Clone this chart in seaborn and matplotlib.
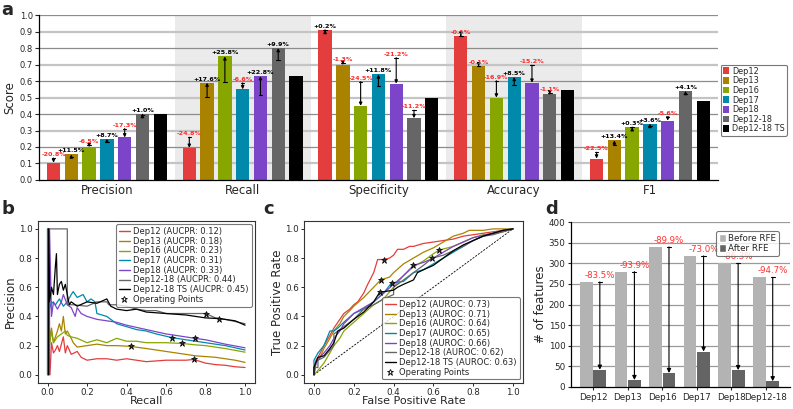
import numpy as np
import pandas as pd
import matplotlib
matplotlib.use('Agg')
import matplotlib.pyplot as plt
import seaborn as sns
from matplotlib.patches import Patch
from matplotlib.lines import Line2D

# ---------------- data ----------------
models = ['Dep12', 'Dep13', 'Dep16', 'Dep17', 'Dep18', 'Dep12-18', 'Dep12-18 TS']
colors = ['#e33d3d', '#a98300', '#88a600', '#0089ab', '#7c44c8', '#666666', '#000000']
metrics = ['Precision', 'Recall', 'Specificity', 'Accuracy', 'F1']

precision = [0.105, 0.155, 0.200, 0.250, 0.258, 0.400, 0.400]
recall = [0.195, 0.590, 0.750, 0.550, 0.630, 0.800, 0.632]
specificity = [0.910, 0.700, 0.450, 0.640, 0.585, 0.375, 0.500]
accuracy = [0.875, 0.690, 0.500, 0.625, 0.590, 0.520, 0.545]
f1 = [0.130, 0.240, 0.320, 0.340, 0.360, 0.540, 0.482]

precision_pct = [-20.8, 11.5, -6.5, 8.7, -17.3, 1.0]
recall_pct = [-24.8, 17.6, 25.8, -6.6, 22.8, 9.9]
specificity_pct = [0.2, -1.3, -24.5, 11.8, -21.2, -11.2]
accuracy_pct = [-0.1, -0.1, -16.9, 8.5, -15.2, -1.1]
f1_pct = [-22.5, 13.4, 0.3, 3.6, -5.6, 4.1]

# PR curves (recall, precision)
pr_recall = {
    'Dep12': [0.012, 0.012, 0.02, 0.03, 0.04, 0.05, 0.06, 0.08, 0.09, 0.10, 0.12, 0.15, 0.17, 0.20, 0.25, 0.30, 0.35, 0.40, 0.45, 0.50, 0.55, 0.60, 0.65, 0.70, 0.74, 0.80, 0.85, 0.90, 0.95, 1.0],
    'Dep13': [0.005, 0.005, 0.01, 0.02, 0.03, 0.05, 0.06, 0.07, 0.08, 0.09, 0.10, 0.12, 0.13, 0.15, 0.20, 0.25, 0.30, 0.35, 0.42, 0.50, 0.55, 0.60, 0.65, 0.70, 0.75, 0.80, 0.85, 0.90, 0.95, 1.0],
    'Dep16': [0.004, 0.004, 0.01, 0.02, 0.03, 0.05, 0.07, 0.09, 0.10, 0.12, 0.15, 0.20, 0.25, 0.30, 0.35, 0.40, 0.45, 0.50, 0.60, 0.68, 0.75, 0.80, 0.90, 1.0],
    'Dep17': [0.0, 0.0, 0.005, 0.01, 0.02, 0.04, 0.06, 0.08, 0.10, 0.12, 0.13, 0.15, 0.18, 0.20, 0.22, 0.24, 0.25, 0.30, 0.35, 0.40, 0.45, 0.50, 0.55, 0.63, 0.70, 0.80, 0.90, 1.0],
    'Dep18': [0.01, 0.01, 0.02, 0.03, 0.05, 0.07, 0.08, 0.10, 0.12, 0.14, 0.15, 0.17, 0.20, 0.25, 0.30, 0.35, 0.40, 0.50, 0.60, 0.65, 0.745, 0.80, 0.90, 1.0],
    'Dep12-18': [0.0, 0.0, 0.10, 0.10, 0.13, 0.20, 0.25, 0.30, 0.31, 0.35, 0.40, 0.45, 0.50, 0.55, 0.60, 0.70, 0.80, 0.85, 0.90, 1.0],
    'Dep12-18 TS': [0.005, 0.005, 0.01, 0.02, 0.03, 0.04, 0.045, 0.05, 0.06, 0.07, 0.08, 0.09, 0.10, 0.11, 0.12, 0.15, 0.20, 0.25, 0.30, 0.32, 0.35, 0.40, 0.45, 0.50, 0.60, 0.70, 0.80, 0.87, 0.95, 1.0],
}
pr_precision = {
    'Dep12': [0.0, 0.0, 0.22, 0.15, 0.17, 0.20, 0.16, 0.26, 0.15, 0.20, 0.14, 0.16, 0.12, 0.10, 0.11, 0.11, 0.10, 0.11, 0.10, 0.09, 0.095, 0.10, 0.10, 0.10, 0.105, 0.08, 0.07, 0.065, 0.055, 0.05],
    'Dep13': [0.0, 1.0, 0.25, 0.32, 0.22, 0.30, 0.35, 0.30, 0.40, 0.28, 0.30, 0.25, 0.22, 0.19, 0.20, 0.21, 0.20, 0.20, 0.195, 0.18, 0.17, 0.16, 0.15, 0.14, 0.13, 0.125, 0.12, 0.11, 0.10, 0.085],
    'Dep16': [0.0, 1.0, 0.20, 0.30, 0.22, 0.26, 0.28, 0.30, 0.27, 0.26, 0.25, 0.22, 0.24, 0.22, 0.25, 0.23, 0.23, 0.22, 0.22, 0.215, 0.205, 0.20, 0.18, 0.155],
    'Dep17': [0.0, 1.0, 1.0, 0.45, 0.50, 0.48, 0.52, 0.47, 0.50, 0.55, 0.57, 0.53, 0.55, 0.50, 0.52, 0.50, 0.42, 0.40, 0.35, 0.33, 0.31, 0.30, 0.28, 0.255, 0.24, 0.22, 0.20, 0.17],
    'Dep18': [0.0, 1.0, 0.40, 0.50, 0.45, 0.50, 0.55, 0.48, 0.46, 0.40, 0.46, 0.42, 0.40, 0.38, 0.37, 0.36, 0.34, 0.31, 0.28, 0.27, 0.25, 0.24, 0.21, 0.185],
    'Dep12-18': [0.0, 1.0, 1.0, 0.48, 0.48, 0.47, 0.50, 0.50, 0.48, 0.48, 0.47, 0.45, 0.44, 0.44, 0.42, 0.42, 0.42, 0.39, 0.38, 0.35],
    'Dep12-18 TS': [0.0, 1.0, 0.50, 0.60, 0.55, 0.75, 0.83, 0.55, 0.62, 0.64, 0.58, 0.62, 0.55, 0.48, 0.50, 0.47, 0.50, 0.49, 0.52, 0.47, 0.45, 0.44, 0.45, 0.43, 0.42, 0.41, 0.39, 0.385, 0.37, 0.34],
}
aucpr = [0.12, 0.18, 0.23, 0.31, 0.33, 0.44, 0.45]
pr_op_recall = [0.74, 0.42, 0.68, 0.63, 0.745, 0.80, 0.87]
pr_op_precision = [0.105, 0.195, 0.215, 0.255, 0.25, 0.42, 0.385]

# ROC curves (fpr, tpr)
roc_fpr = {
    'Dep12': [0, 0, 0.01, 0.02, 0.05, 0.08, 0.10, 0.12, 0.15, 0.18, 0.20, 0.22, 0.25, 0.27, 0.30, 0.32, 0.35, 0.38, 0.40, 0.42, 0.45, 0.48, 0.50, 0.55, 0.60, 0.65, 0.70, 0.75, 0.80, 0.85, 0.90, 0.95, 1.0],
    'Dep13': [0, 0.01, 0.03, 0.05, 0.08, 0.10, 0.13, 0.15, 0.18, 0.20, 0.25, 0.30, 0.335, 0.38, 0.40, 0.45, 0.50, 0.55, 0.60, 0.65, 0.70, 0.75, 0.78, 0.85, 0.90, 1.0],
    'Dep16': [0, 0.02, 0.05, 0.08, 0.10, 0.13, 0.15, 0.20, 0.25, 0.30, 0.35, 0.40, 0.45, 0.50, 0.55, 0.60, 0.63, 0.70, 0.75, 0.80, 0.85, 0.90, 0.95, 1.0],
    'Dep17': [0, 0, 0.02, 0.05, 0.08, 0.10, 0.12, 0.15, 0.20, 0.25, 0.30, 0.35, 0.39, 0.45, 0.50, 0.55, 0.60, 0.65, 0.70, 0.75, 0.80, 0.85, 0.90, 0.95, 1.0],
    'Dep18': [0, 0.01, 0.03, 0.05, 0.08, 0.10, 0.13, 0.15, 0.20, 0.25, 0.30, 0.35, 0.40, 0.45, 0.50, 0.55, 0.60, 0.65, 0.70, 0.75, 0.80, 0.90, 1.0],
    'Dep12-18': [0, 0, 0.02, 0.02, 0.05, 0.10, 0.10, 0.15, 0.20, 0.25, 0.30, 0.35, 0.40, 0.40, 0.45, 0.50, 0.55, 0.595, 0.65, 0.70, 0.75, 0.80, 0.85, 0.90, 0.95, 1.0],
    'Dep12-18 TS': [0, 0, 0.02, 0.05, 0.08, 0.10, 0.12, 0.15, 0.20, 0.25, 0.30, 0.33, 0.40, 0.42, 0.45, 0.50, 0.52, 0.55, 0.60, 0.65, 0.70, 0.75, 0.80, 0.85, 0.90, 0.95, 1.0],
}
roc_tpr = {
    'Dep12': [0, 0.05, 0.10, 0.12, 0.20, 0.27, 0.32, 0.36, 0.42, 0.45, 0.48, 0.50, 0.56, 0.62, 0.70, 0.79, 0.79, 0.80, 0.82, 0.86, 0.86, 0.88, 0.88, 0.90, 0.91, 0.92, 0.93, 0.95, 0.96, 0.97, 0.98, 0.99, 1.0],
    'Dep13': [0, 0.08, 0.12, 0.18, 0.25, 0.30, 0.35, 0.40, 0.44, 0.47, 0.53, 0.60, 0.65, 0.67, 0.70, 0.76, 0.80, 0.84, 0.87, 0.91, 0.95, 0.97, 0.99, 0.99, 1.0, 1.0],
    'Dep16': [0, 0.03, 0.08, 0.15, 0.20, 0.25, 0.30, 0.36, 0.42, 0.48, 0.52, 0.60, 0.68, 0.74, 0.78, 0.83, 0.855, 0.88, 0.91, 0.94, 0.96, 0.97, 0.98, 1.0],
    'Dep17': [0, 0.10, 0.15, 0.20, 0.30, 0.30, 0.32, 0.36, 0.42, 0.45, 0.50, 0.56, 0.63, 0.64, 0.70, 0.72, 0.76, 0.80, 0.84, 0.88, 0.92, 0.95, 0.97, 0.99, 1.0],
    'Dep18': [0, 0.08, 0.12, 0.15, 0.20, 0.25, 0.30, 0.35, 0.42, 0.46, 0.50, 0.56, 0.62, 0.68, 0.75, 0.77, 0.80, 0.84, 0.88, 0.91, 0.94, 0.97, 1.0],
    'Dep12-18': [0, 0.05, 0.05, 0.10, 0.12, 0.20, 0.28, 0.33, 0.38, 0.45, 0.48, 0.52, 0.55, 0.60, 0.65, 0.70, 0.75, 0.80, 0.82, 0.85, 0.88, 0.92, 0.95, 0.96, 0.98, 1.0],
    'Dep12-18 TS': [0, 0.05, 0.12, 0.13, 0.18, 0.22, 0.30, 0.32, 0.38, 0.43, 0.50, 0.565, 0.58, 0.60, 0.62, 0.65, 0.70, 0.72, 0.75, 0.80, 0.85, 0.89, 0.92, 0.95, 0.97, 0.99, 1.0],
}
auroc = [0.73, 0.71, 0.64, 0.65, 0.66, 0.62, 0.63]
roc_op_fpr = [0.35, 0.335, 0.63, 0.39, 0.50, 0.595, 0.33]
roc_op_tpr = [0.79, 0.65, 0.855, 0.63, 0.75, 0.80, 0.565]

# RFE
rfe_models = ['Dep12', 'Dep13', 'Dep16', 'Dep17', 'Dep18', 'Dep12-18']
before_rfe = [255, 280, 340, 318, 300, 266]
after_rfe = [42, 17, 34, 86, 41, 14]
rfe_pct = [-83.5, -93.9, -89.9, -73.0, -86.3, -94.7]

# ---------------- figure ----------------
sns.set_style('white')
plt.rcParams['font.family'] = ['DejaVu Sans']
fig = plt.figure(figsize=(7.93, 4.09), dpi=100)

# ---- panel a ----
ax = fig.add_axes([0.0492, 0.560, 0.856, 0.403])
vals = [precision, recall, specificity, accuracy, f1]
pcts = [precision_pct, recall_pct, specificity_pct, accuracy_pct, f1_pct]
rows = []
for m, v in zip(metrics, vals):
    for mod, s in zip(models, v):
        rows.append({'metric': m, 'model': mod, 'score': s})
df = pd.DataFrame(rows)
ax.axvspan(0.5, 1.5, color='#ebebeb', zorder=0, lw=0)
ax.axvspan(2.5, 3.5, color='#ebebeb', zorder=0, lw=0)
for k in range(1, 11):
    y = k / 10
    if k % 2 == 1:
        ax.axhline(y, color='#c4c4c4', lw=1.6, zorder=0.5)
    else:
        ax.axhline(y, color='#8c8c8c', lw=0.9, zorder=0.5)
sns.barplot(data=df, x='metric', y='score', hue='model', order=metrics, hue_order=models,
            palette=colors, width=0.917, gap=0.25, saturation=1, errorbar=None,
            legend=False, ax=ax, zorder=2, linewidth=0)
for j, cont in enumerate(ax.containers):
    if j >= 6:
        continue
    for i, bar in enumerate(cont):
        x = bar.get_x() + bar.get_width() / 2
        val = bar.get_height()
        pct = pcts[i][j]
        ref = val / (1 + pct / 100)
        ax.annotate('', xy=(x, val), xytext=(x, ref),
                    arrowprops=dict(arrowstyle='-|>', color='black', lw=0.8,
                                    mutation_scale=4.5, shrinkA=0, shrinkB=0), zorder=3)
        ax.plot([x - 0.013, x + 0.013], [ref, ref], color='black', lw=0.8, zorder=3)
        ax.text(x, max(val, ref) + 0.006, f'{pct:+.1f}%', ha='center', va='bottom',
                fontsize=4.6, fontweight='bold', color='#ff2a2a' if pct < 0 else 'black', zorder=4)
ax.set_xlim(-0.5, 4.5)
ax.set_ylim(0, 1.0)
ax.set_yticks(np.arange(0, 1.01, 0.1))
ax.set_yticklabels([f'{t:.1f}' for t in np.arange(0, 1.01, 0.1)], fontsize=6)
ax.tick_params(axis='y', length=3, width=0.8, left=True, pad=1.5)
ax.tick_params(axis='x', length=0, labelsize=8.5, pad=3)
ax.set_xlabel('')
ax.set_ylabel('Score', fontsize=8.5, labelpad=2)
for s in ['top', 'right']:
    ax.spines[s].set_visible(False)
for s in ['left', 'bottom']:
    ax.spines[s].set_color('black')
    ax.spines[s].set_linewidth(0.9)
handles = [Patch(facecolor=c, edgecolor='none', label=m) for m, c in zip(models, colors)]
leg = ax.legend(handles=handles, loc='center left', bbox_to_anchor=(1.002, 0.485), fontsize=5.9,
                handlelength=0.8, handleheight=0.9, handletextpad=0.3, labelspacing=0.08,
                borderpad=0.25, borderaxespad=0.2, frameon=True, fancybox=True, edgecolor='#555555')
leg.get_frame().set_linewidth(0.8)

# ---- panel b ----
axb = fig.add_axes([0.0475, 0.064, 0.274, 0.396])
for k, (m, c) in enumerate(zip(models, colors)):
    sns.lineplot(x=pr_recall[m], y=pr_precision[m], color=c, lw=0.9, estimator=None,
                 sort=False, ax=axb, zorder=2 + (0.1 if m == 'Dep12-18 TS' else 0))
for k, c in enumerate(colors):
    axb.plot(pr_op_recall[k], pr_op_precision[k], marker='*', ms=4.5, color='#333333',
             mec='black', mew=0.5, ls='none', zorder=5)
axb.set_xlim(-0.05, 1.05)
axb.set_ylim(-0.055, 1.055)
axb.set_xticks(np.arange(0, 1.01, 0.2))
axb.set_yticks(np.arange(0, 1.01, 0.2))
axb.tick_params(labelsize=6.3, length=2.5, width=0.7, pad=1.2, bottom=True, left=True)
axb.set_xlabel('Recall', fontsize=8, labelpad=-0.5)
axb.set_ylabel('Precision', fontsize=8.5, labelpad=1)
for s in axb.spines.values():
    s.set_color('#333333'); s.set_linewidth(0.8)
hb = [Line2D([], [], color=c, lw=1, label=f'{m} (AUCPR: {a:.2f})') for m, c, a in zip(models, colors, aucpr)]
hb.append(Line2D([], [], marker='*', ls='none', mfc='white', mec='black', mew=0.6, ms=5, label='Operating Points'))
lb = axb.legend(handles=hb, loc='upper right', fontsize=6.0, handlelength=1.3, handletextpad=0.4,
                labelspacing=0.08, borderpad=0.35, frameon=True, fancybox=True, edgecolor='#555555',
                borderaxespad=0.4)
lb.get_frame().set_linewidth(0.8)

# ---- panel c ----
axc = fig.add_axes([0.3834, 0.064, 0.276, 0.396])
axc.plot([0, 1], [0, 1], ls='--', color='black', lw=0.6, dashes=(2.5, 1.5), zorder=1)
for k, (m, c) in enumerate(zip(models, colors)):
    sns.lineplot(x=roc_fpr[m], y=roc_tpr[m], color=c, lw=0.9, estimator=None,
                 sort=False, ax=axc, zorder=2)
for k, c in enumerate(colors):
    axc.plot(roc_op_fpr[k], roc_op_tpr[k], marker='*', ms=4.5, color='#333333',
             mec='black', mew=0.5, ls='none', zorder=5)
axc.set_xlim(-0.05, 1.05)
axc.set_ylim(-0.055, 1.055)
axc.set_xticks(np.arange(0, 1.01, 0.2))
axc.set_yticks(np.arange(0, 1.01, 0.2))
axc.tick_params(labelsize=6.3, length=2.5, width=0.7, pad=1.2, bottom=True, left=True)
axc.set_xlabel('False Positive Rate', fontsize=8, labelpad=-0.5)
axc.set_ylabel('True Positive Rate', fontsize=8.5, labelpad=1)
for s in axc.spines.values():
    s.set_color('#333333'); s.set_linewidth(0.8)
hc = [Line2D([], [], color=c, lw=1, label=f'{m} (AUROC: {a:.2f})') for m, c, a in zip(models, colors, auroc)]
hc.append(Line2D([], [], marker='*', ls='none', mfc='white', mec='black', mew=0.6, ms=5, label='Operating Points'))
lc = axc.legend(handles=hc, loc='lower right', fontsize=6.0, handlelength=1.3, handletextpad=0.4,
                labelspacing=0.08, borderpad=0.35, frameon=True, fancybox=True, edgecolor='#555555',
                borderaxespad=0.4)
lc.get_frame().set_linewidth(0.8)

# ---- panel d ----
axd = fig.add_axes([0.720, 0.0538, 0.276, 0.403])
rows = []
for m, b, a in zip(rfe_models, before_rfe, after_rfe):
    rows.append({'model': m, 'stage': 'Before RFE', 'n': b})
    rows.append({'model': m, 'stage': 'After RFE', 'n': a})
dfd = pd.DataFrame(rows)
for y in range(50, 401, 50):
    axd.axhline(y, color='#9a9a9a', lw=0.9, zorder=0.5)
sns.barplot(data=dfd, x='model', y='n', hue='stage', order=rfe_models,
            hue_order=['Before RFE', 'After RFE'], palette=['#b3b3b3', '#646464'],
            width=0.78, gap=0.05, saturation=1, errorbar=None, legend=False, ax=axd,
            zorder=2, linewidth=0)
after_cont = axd.containers[1]
for i, bar in enumerate(after_cont):
    x = bar.get_x() + bar.get_width() / 2
    top_after = bar.get_height()
    top_before = before_rfe[i]
    axd.annotate('', xy=(x, top_after), xytext=(x, top_before),
                 arrowprops=dict(arrowstyle='-|>', color='black', lw=0.8,
                                 mutation_scale=6, shrinkA=0, shrinkB=0), zorder=3)
    axd.plot([x - 0.06, x + 0.06], [top_before, top_before], color='black', lw=0.8, zorder=3)
    axd.text(x, top_before + 5, f'{rfe_pct[i]:.1f}%', ha='center', va='bottom',
             fontsize=6.2, color='#ff3030', zorder=4)
axd.set_xlim(-0.64, 5.69)
axd.set_ylim(0, 400)
axd.set_yticks(range(0, 401, 50))
axd.tick_params(axis='y', labelsize=6.3, length=2.5, width=0.8, left=True, pad=1.5)
axd.tick_params(axis='x', labelsize=6.3, length=2.5, width=0.8, bottom=True, pad=1.5)
axd.set_xlabel('')
axd.set_ylabel('# of features', fontsize=8.5, labelpad=1)
for s in ['top', 'right']:
    axd.spines[s].set_visible(False)
for s in ['left', 'bottom']:
    axd.spines[s].set_color('black'); axd.spines[s].set_linewidth(0.9)
hd = [Patch(facecolor='#b3b3b3', label='Before RFE'), Patch(facecolor='#646464', label='After RFE')]
ld = axd.legend(handles=hd, loc='upper right', fontsize=6.3, handlelength=0.8, handleheight=0.9,
                handletextpad=0.3, labelspacing=0.1, borderpad=0.3, frameon=True, fancybox=True,
                edgecolor='#555555', bbox_to_anchor=(0.97, 0.97))
ld.get_frame().set_linewidth(0.8)

# panel letters
fig.text(0.002, 0.998, 'a', fontsize=13, fontweight='bold', va='top')
fig.text(0.002, 0.512, 'b', fontsize=13, fontweight='bold', va='top')
fig.text(0.332, 0.512, 'c', fontsize=13, fontweight='bold', va='top')
fig.text(0.688, 0.512, 'd', fontsize=13, fontweight='bold', va='top')

fig.savefig('out.png', dpi=100)
